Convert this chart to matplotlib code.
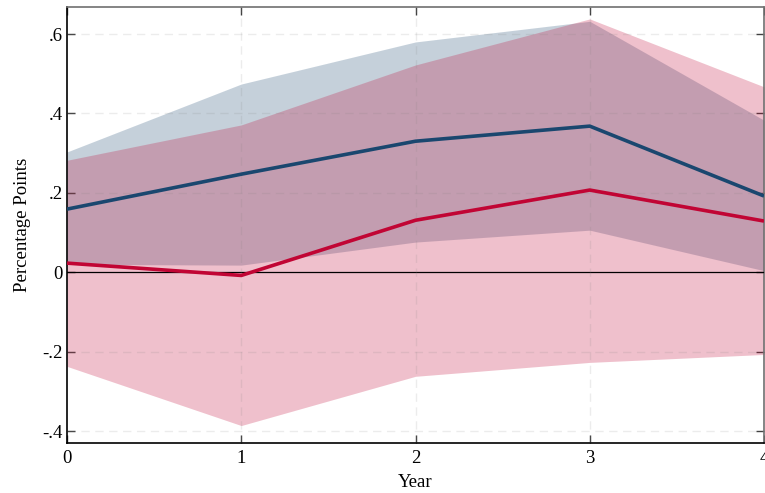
import numpy as np
import matplotlib.pyplot as plt

plt.rcParams['font.family'] = ['Liberation Serif', 'DejaVu Serif']

years = [0, 1, 2, 3, 4]

# point estimates
blue_est = [0.159, 0.247, 0.330, 0.368, 0.192]
red_est = [0.023, -0.008, 0.131, 0.207, 0.129]

# confidence bands
blue_lo = [0.020, 0.018, 0.076, 0.106, 0.004]
blue_hi = [0.303, 0.474, 0.580, 0.632, 0.383]
red_lo = [-0.237, -0.386, -0.262, -0.227, -0.207]
red_hi = [0.282, 0.371, 0.522, 0.638, 0.467]

yticks = [-0.4, -0.2, 0, 0.2, 0.4, 0.6]
ytick_labels = ['-.4', '-.2', '0', '.2', '.4', '.6']

navy = '#1a476f'
cranberry = '#c10534'

fig = plt.figure(figsize=(7.65, 4.93), dpi=100)
ax = fig.add_axes([0.0876, 0.1014, 0.9111, 0.8844])

ax.fill_between(years, blue_lo, blue_hi, color=navy, alpha=0.25, linewidth=0, zorder=1)
ax.fill_between(years, red_lo, red_hi, color=cranberry, alpha=0.25, linewidth=0, zorder=2)

ax.axhline(0, color='black', linewidth=0.9, zorder=3)

ax.plot(years, blue_est, color=navy, linewidth=2.6, zorder=5, solid_capstyle='butt')
ax.plot(years, red_est, color=cranberry, linewidth=2.6, zorder=5, solid_capstyle='butt')

# dashed grid drawn over the bands
for y in yticks:
    if y != 0:
        ax.axhline(y, color='gray', alpha=0.15, linewidth=1.0, linestyle=(0, (6, 4)), zorder=4)
for x in years[1:-1]:
    ax.axvline(x, color='gray', alpha=0.15, linewidth=1.0, linestyle=(0, (6, 4)), zorder=4)

ax.set_xlim(0, 4)
ax.set_ylim(-0.43, 0.668)
ax.set_xticks(years)
ax.set_yticks(yticks)
ax.set_yticklabels(ytick_labels)

ax.tick_params(direction='in', length=6, width=1, labelsize=13.5,
               top=True, right=True, color='#404040')
ax.tick_params(axis='y', pad=3)
ax.tick_params(axis='x', pad=5)

for side in ['top', 'right']:
    ax.spines[side].set_color('#707070')
    ax.spines[side].set_linewidth(1.2)
for side in ['left', 'bottom']:
    ax.spines[side].set_color('black')
    ax.spines[side].set_linewidth(1.2)

ax.set_xlabel('Year', fontsize=13.5, labelpad=5)
ax.set_ylabel('Percentage Points', fontsize=13.5, labelpad=8)

fig.savefig('out.png', dpi=100)
